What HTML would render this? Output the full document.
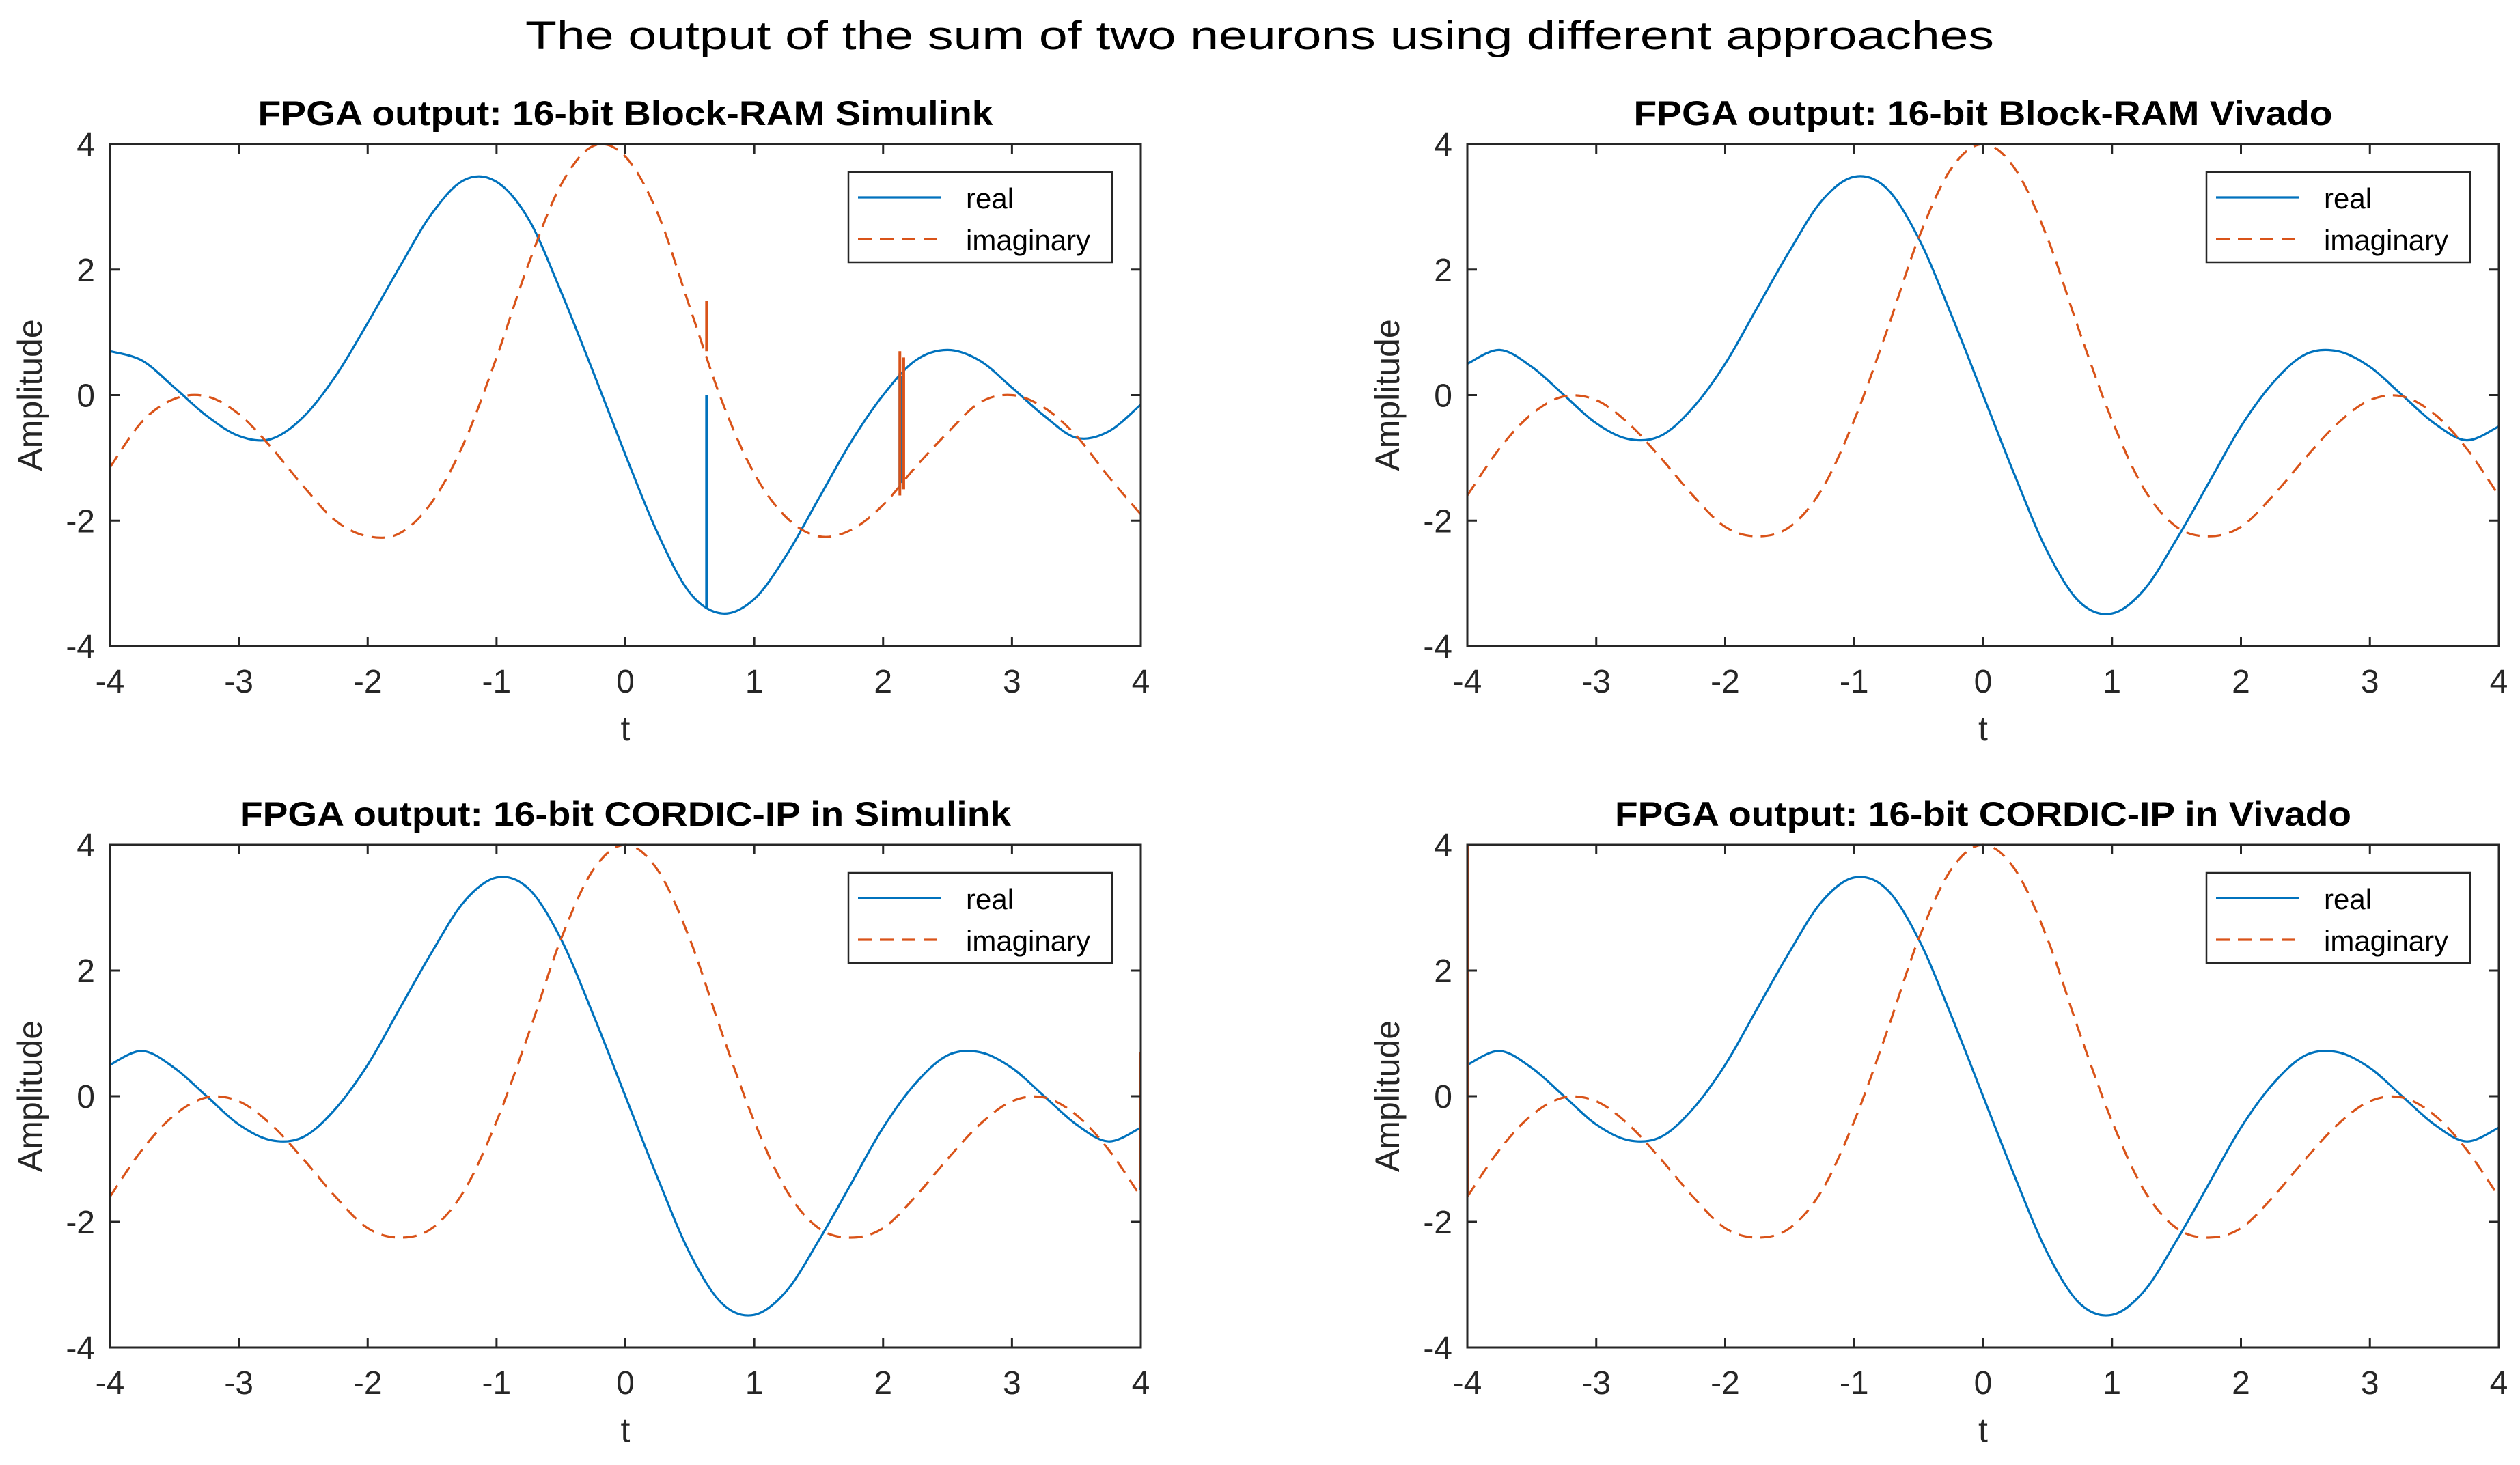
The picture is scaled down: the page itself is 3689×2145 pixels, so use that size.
<!DOCTYPE html>
<html><head><meta charset="utf-8"><style>
html,body{margin:0;padding:0;background:#fff;}
svg{display:block;font-family:"Liberation Sans",Arial,sans-serif;}
</style></head><body>
<svg id="fig" width="3689" height="2145" viewBox="0 0 3689 2145">
<text x="1844" y="72" font-size="58" text-anchor="middle" textLength="2150" lengthAdjust="spacingAndGlyphs">The output of the sum of two neurons using different approaches</text>
</svg>
<script>
const tGrid = [-4,-3.75,-3.5,-3.25,-3,-2.75,-2.5,-2.25,-2,-1.75,-1.5,-1.25,-1,-0.75,-0.5,-0.25,0,0.25,0.5,0.75,1,1.25,1.5,1.75,2,2.25,2.5,2.75,3,3.25,3.5,3.75,4];
const realIdeal = [0.5,0.72,0.45,0,-0.45,-0.7,-0.65,-0.2,0.5,1.4,2.3,3.1,3.48,3.3,2.5,1.3,0,-1.3,-2.5,-3.3,-3.48,-3.1,-2.3,-1.4,-0.5,0.2,0.65,0.7,0.45,0,-0.45,-0.72,-0.5];
const imagIdeal = [-1.6,-0.85,-0.3,-0.02,-0.08,-0.45,-1.0,-1.6,-2.1,-2.25,-2.1,-1.5,-0.4,1.0,2.5,3.6,4,3.6,2.5,1.0,-0.4,-1.5,-2.1,-2.25,-2.1,-1.6,-1.0,-0.45,-0.08,-0.02,-0.3,-0.85,-1.6];
const realSim = [0.7,0.55,0.12,-0.33,-0.65,-0.7,-0.35,0.3,1.15,2.05,2.9,3.43,3.4,2.8,1.65,0.37,-0.95,-2.2,-3.15,-3.48,-3.25,-2.55,-1.65,-0.75,0,0.55,0.72,0.55,0.12,-0.33,-0.68,-0.58,-0.15];
const imagSim = [-1.15,-0.42,-0.06,-0.02,-0.3,-0.83,-1.45,-2.0,-2.25,-2.2,-1.7,-0.75,0.6,2.1,3.35,3.97,3.8,2.9,1.4,-0.1,-1.25,-1.95,-2.25,-2.15,-1.75,-1.15,-0.6,-0.12,0,-0.2,-0.65,-1.3,-1.9];
// glitches: [t, yFrom, yTo]
const glitchRealSim = [[0.63,-3.4,0],[2.13,0.35,-1.5],[2.15,0.3,-1.4]];
const glitchImagSim = [[0.63,1.5,0.7],[2.13,0.7,-1.6],[2.16,0.6,-1.5]];
const glitchRealCordSim = [[4,-0.5,-1.5]];
const glitchImagCordSim = [[4,0.7,-1.45]];
const glitchRealCordViv = [[-4,0.5,-0.2]];
const glitchImagCordViv = [[-4,4,-1.6]];
const xTicks = [-4,-3,-2,-1,0,1,2,3,4];
const yTicks = [-4,-2,0,2,4];
const titles = ["FPGA output: 16-bit Block-RAM Simulink","FPGA output: 16-bit Block-RAM Vivado","FPGA output: 16-bit CORDIC-IP in Simulink","FPGA output: 16-bit CORDIC-IP in Vivado"];
const titleWidths = [1076,1023,1129,1078];

const NS="http://www.w3.org/2000/svg";
const svg=document.getElementById('fig');
function mk(tag,attrs,parent){const e=document.createElementNS(NS,tag);for(const k in attrs)e.setAttribute(k,attrs[k]);(parent||svg).appendChild(e);return e;}

const panels=[
 {x0:161,x1:1670,y0:211,y1:946,real:realSim,imag:imagSim,gr:glitchRealSim,gi:glitchImagSim,name:'blockram-simulink'},
 {x0:2148,x1:3658,y0:211,y1:946,real:realIdeal,imag:imagIdeal,gr:[],gi:[],name:'blockram-vivado'},
 {x0:161,x1:1670,y0:1237,y1:1973,real:realIdeal,imag:imagIdeal,gr:glitchRealCordSim,gi:glitchImagCordSim,name:'cordic-simulink'},
 {x0:2148,x1:3658,y0:1237,y1:1973,real:realIdeal,imag:imagIdeal,gr:glitchRealCordViv,gi:glitchImagCordViv,name:'cordic-vivado'}
];

function pathFrom(xs,ys,sx,sy){
  const P=xs.map((t,i)=>[sx(t),sy(ys[i])]);
  let d='M'+P[0][0].toFixed(1)+','+P[0][1].toFixed(1);
  for(let i=0;i<P.length-1;i++){
    const p0=P[Math.max(0,i-1)],p1=P[i],p2=P[i+1],p3=P[Math.min(P.length-1,i+2)];
    const c1=[p1[0]+(p2[0]-p0[0])/6,p1[1]+(p2[1]-p0[1])/6];
    const c2=[p2[0]-(p3[0]-p1[0])/6,p2[1]-(p3[1]-p1[1])/6];
    d+=' C'+c1[0].toFixed(1)+','+c1[1].toFixed(1)+' '+c2[0].toFixed(1)+','+c2[1].toFixed(1)+' '+p2[0].toFixed(1)+','+p2[1].toFixed(1);
  }
  return d;
}

panels.forEach((p,k)=>{
  const g=mk('g',{});
  
  
  const sx=t=>p.x0+(t+4)/8*(p.x1-p.x0);
  const sy=v=>p.y1-(v+4)/8*(p.y1-p.y0);
  const cx=(p.x0+p.x1)/2, cy=(p.y0+p.y1)/2;
  const title=mk('text',{x:cx,y:p.y0-28,'font-size':50,'font-weight':'bold','text-anchor':'middle',textLength:titleWidths[k],lengthAdjust:'spacingAndGlyphs'},g);
  title.textContent=titles[k];
  
  
  const clipId='clip'+k;
  const cp=mk('clipPath',{id:clipId},g);
  mk('rect',{x:p.x0,y:p.y0-4,width:p.x1-p.x0,height:p.y1-p.y0+8},cp);
  const series=mk('g',{'clip-path':'url(#'+clipId+')'},g);
  const re=mk('path',{d:pathFrom(tGrid,p.real,sx,sy),fill:'none',stroke:'#0072BD','stroke-width':3.2},series);
  
  
  const im=mk('path',{d:pathFrom(tGrid,p.imag,sx,sy),fill:'none',stroke:'#D95319','stroke-width':3.2,'stroke-dasharray':'20,12'},series);
  
  
  p.gr.forEach(q=>{
    const l=mk('line',{x1:sx(q[0]),x2:sx(q[0]),y1:sy(q[1]),y2:sy(q[2]),stroke:'#0072BD','stroke-width':4},series);
    
    
  });
  p.gi.forEach(q=>{
    const l=mk('line',{x1:sx(q[0]),x2:sx(q[0]),y1:sy(q[1]),y2:sy(q[2]),stroke:'#D95319','stroke-width':4},series);
    
    
  });
  const box=mk('rect',{x:p.x0,y:p.y0,width:p.x1-p.x0,height:p.y1-p.y0,fill:'none',stroke:'#262626','stroke-width':3},g);
  
  
  xTicks.forEach(t=>{
    const x=sx(t);
    mk('line',{x1:x,x2:x,y1:p.y1,y2:p.y1-14,stroke:'#262626','stroke-width':3},g);
    mk('line',{x1:x,x2:x,y1:p.y0,y2:p.y0+14,stroke:'#262626','stroke-width':3},g);
    const tl=mk('text',{x:x,y:p.y1+68,'font-size':48,'text-anchor':'middle',fill:'#262626'},g);
    tl.textContent=String(t);
    
    
  });
  yTicks.forEach(v=>{
    const y=sy(v);
    mk('line',{x1:p.x0,x2:p.x0+14,y1:y,y2:y,stroke:'#262626','stroke-width':3},g);
    mk('line',{x1:p.x1,x2:p.x1-14,y1:y,y2:y,stroke:'#262626','stroke-width':3},g);
    const tl=mk('text',{x:p.x0-22,y:y+17,'font-size':48,'text-anchor':'end',fill:'#262626'},g);
    tl.textContent=String(v);
    
    
  });
  const xl=mk('text',{x:cx,y:p.y1+138,'font-size':50,'text-anchor':'middle',fill:'#262626'},g);
  xl.textContent='t';
  
  
  const ylx=p.x0-100;
  const yl=mk('text',{x:ylx,y:cy,'font-size':50,'text-anchor':'middle',fill:'#262626',transform:'rotate(-90 '+ylx+' '+cy+')'},g);
  yl.textContent='Amplitude';
  
  
  const lx=p.x1-428, ly=p.y0+41, lw=386, lh=132;
  const lg=mk('g',{},g);
  
  
  mk('rect',{x:lx,y:ly,width:lw,height:lh,fill:'#fff',stroke:'#262626','stroke-width':2.5},lg);
  const e1=mk('g',{},lg);
  
  
  mk('line',{x1:lx+14,x2:lx+136,y1:ly+37,y2:ly+37,stroke:'#0072BD','stroke-width':3.2},e1);
  const t1=mk('text',{x:lx+172,y:ly+53,'font-size':42,fill:'#000'},e1);t1.textContent='real';
  const e2=mk('g',{},lg);
  
  
  mk('line',{x1:lx+14,x2:lx+136,y1:ly+98,y2:ly+98,stroke:'#D95319','stroke-width':3.2,'stroke-dasharray':'20,12'},e2);
  const t2=mk('text',{x:lx+172,y:ly+114,'font-size':42,fill:'#000'},e2);t2.textContent='imaginary';
});
</script>
</body></html>
